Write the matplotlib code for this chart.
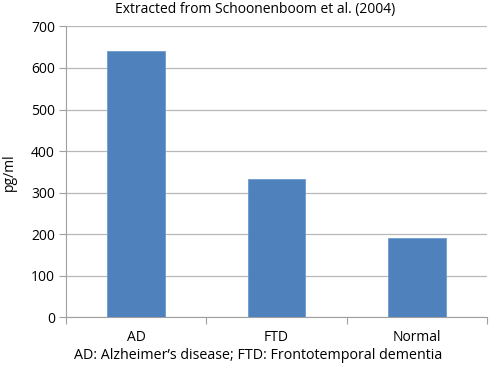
import matplotlib.pyplot as plt
import numpy as np

categories = ['AD', 'FTD', 'Normal']
values = [642, 333, 190]
yticks = [0, 100, 200, 300, 400, 500, 600, 700]

plt.rcParams['font.family'] = ['Open Sans', 'DejaVu Sans']
plt.rcParams['font.size'] = 10

fig = plt.figure(figsize=(4.9, 3.73), dpi=100)
ax = fig.add_axes([0.1347, 0.150, 0.859, 0.779])

x = np.arange(len(categories))
ax.bar(x, values, width=0.41, color='#4F81BD', edgecolor='#6E9AD0', linewidth=0.6, zorder=3)

ax.set_xlim(-0.5, 2.5)
ax.set_ylim(0, 700)
ax.set_yticks(yticks)
ax.set_xticks(x)
ax.set_xticklabels(categories)
ax.set_xticks(np.arange(-0.5, 3.0, 1.0), minor=True)
ax.tick_params(axis='x', which='major', length=0, pad=9, labelsize=10)
ax.tick_params(axis='x', which='minor', length=5, color='#A0A0A0', width=0.8)
ax.tick_params(axis='y', length=5, color='#A0A0A0', width=0.8, pad=3, labelsize=10)

ax.grid(axis='y', color='#B8B8B8', linewidth=0.9, zorder=0)
for s in ['top', 'right']:
    ax.spines[s].set_visible(False)
ax.spines['left'].set_color('#A0A0A0')
ax.spines['bottom'].set_color('#A0A0A0')

ax.set_ylabel('pg/ml', fontsize=10, labelpad=10)
fig.text(0.52, 0.975, 'Extracted from Schoonenboom et al. (2004)', ha='center', va='center', fontsize=10)
fig.text(0.527, 0.048, 'AD: Alzheimer\u2019s disease; FTD: Frontotemporal dementia', ha='center', va='center', fontsize=10.3)

fig.savefig('out.png', dpi=100)
